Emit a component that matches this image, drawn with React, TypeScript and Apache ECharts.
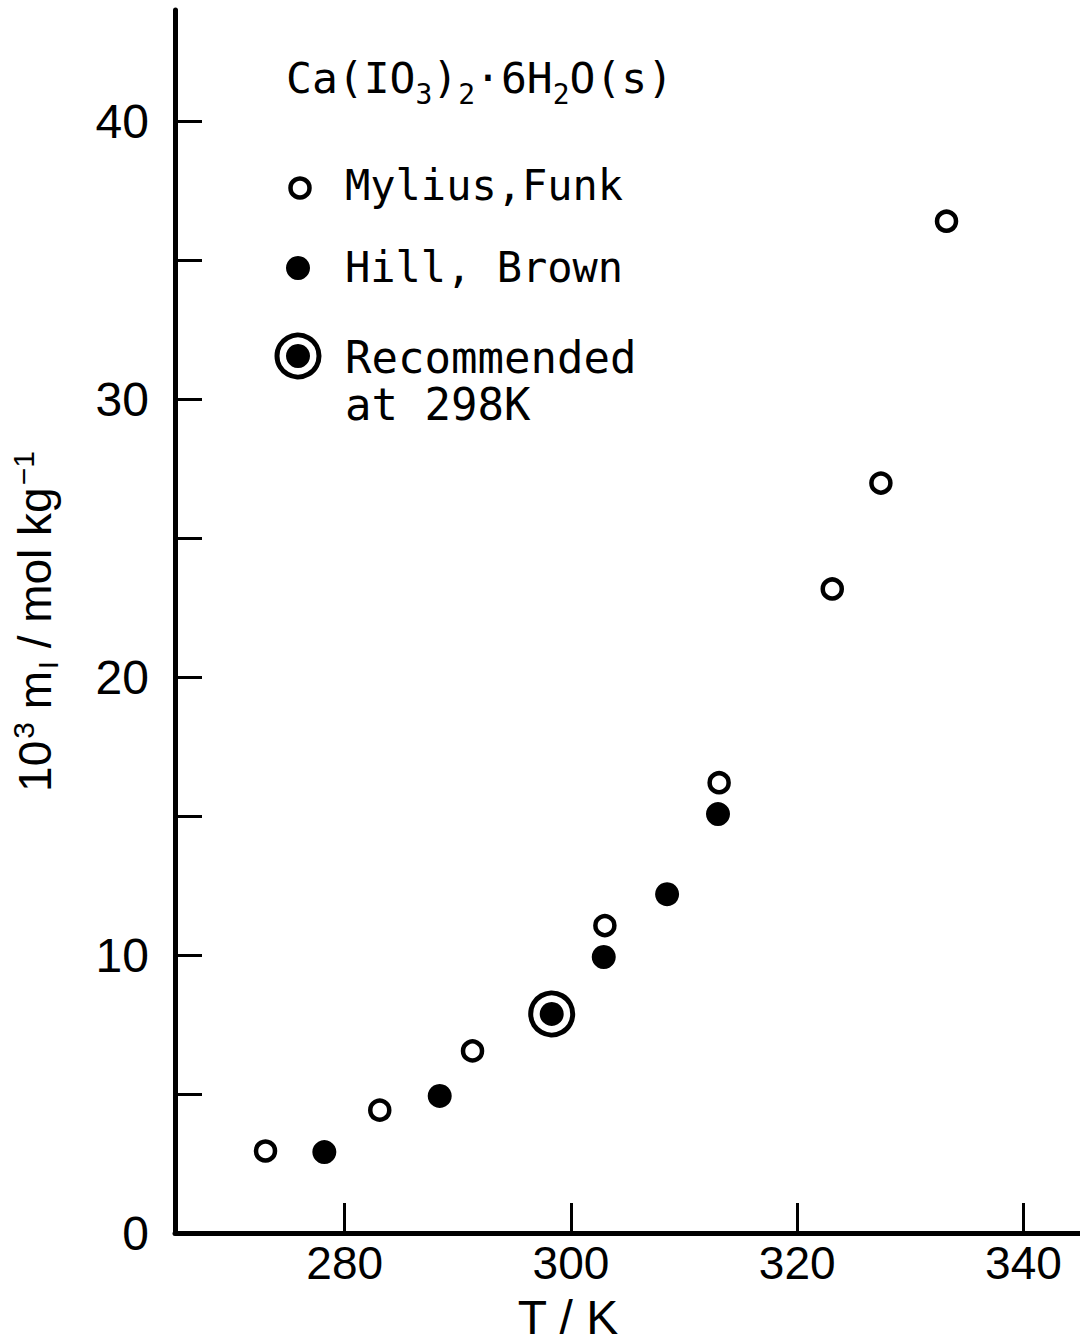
import React, { useEffect, useRef } from 'react';
import * as echarts from 'echarts';

// Mylius, Funk (open circles)
const myliusT = [273.0, 283.1, 291.3, 303.0, 313.1, 323.1, 327.4, 333.2];
const myliusM = [2.95, 4.42, 6.55, 11.06, 16.2, 23.17, 26.98, 36.4];
// Hill, Brown (filled circles)
const hillT = [278.2, 288.4, 302.9, 308.5, 313.0];
const hillM = [2.91, 4.93, 9.93, 12.19, 15.07];
// Recommended at 298 K
const recT = [298.3];
const recM = [7.88];

const xTicks = [280, 300, 320, 340];
const yTicks = [0, 5, 10, 15, 20, 25, 30, 35, 40];
const yLabels = [0, 10, 20, 30, 40];

const MONO = '"DejaVu Sans Mono", monospace';
const SANS = '"Liberation Sans", Arial, sans-serif';

export default function App() {
  const ref = useRef<HTMLDivElement>(null);
  useEffect(() => {
    if (!ref.current) return;
    const chart = echarts.init(ref.current, null, { renderer: 'svg' });
    const pair = (a: number[], b: number[]) => a.map((v, i) => [v, b[i]]);
    chart.setOption({
      animation: false,
      backgroundColor: '#fff',
      grid: { left: 173, right: 0, top: 10, bottom: 109, containLabel: false },
      xAxis: {
        type: 'value',
        min: 265,
        max: 345,
        splitLine: { show: false },
        axisLine: { show: true, onZero: false, lineStyle: { color: '#000', width: 5 } },
        axisTick: { show: true, inside: true, length: 30, customValues: xTicks, lineStyle: { color: '#000', width: 3 } },
        axisLabel: { customValues: xTicks, margin: 7, color: '#000', fontSize: 46, fontFamily: SANS, lineHeight: 46 },
      },
      yAxis: {
        type: 'value',
        min: 0,
        max: 44,
        splitLine: { show: false },
        axisLine: { show: true, onZero: false, lineStyle: { color: '#000', width: 5 } },
        axisTick: { show: true, inside: true, length: 27, customValues: yTicks, lineStyle: { color: '#000', width: 3 } },
        axisLabel: { customValues: yLabels, margin: 26, color: '#000', fontSize: 48, fontFamily: SANS, padding: [12, 0, 0, 0] },
        name: '{n|10}{sup|3}{n| m}{sub|I}{n| / mol kg}{sup|−1}',
        nameLocation: 'middle',
        nameRotate: 90,
        nameGap: 113,
        nameTextStyle: {
          color: '#000',
          fontFamily: SANS,
          rich: {
            n: { fontSize: 46, fontFamily: SANS, color: '#000' },
            sup: { fontSize: 30, fontFamily: SANS, color: '#000', padding: [0, 0, 24, 2] },
            sub: { fontSize: 28, fontFamily: SANS, color: '#000', padding: [26, 0, 0, 2] },
          },
        },
      },
      series: [
        {
          name: 'Mylius,Funk',
          type: 'scatter',
          data: pair(myliusT, myliusM),
          symbol: 'circle',
          symbolSize: 19,
          itemStyle: { color: '#fff', borderColor: '#000', borderWidth: 4.5, opacity: 1 },
          z: 3,
        },
        {
          name: 'Hill, Brown',
          type: 'scatter',
          data: pair(hillT, hillM),
          symbol: 'circle',
          symbolSize: 24,
          itemStyle: { color: '#000', opacity: 1 },
          z: 3,
        },
        {
          name: 'Recommended ring',
          type: 'scatter',
          data: pair(recT, recM),
          symbol: 'circle',
          symbolSize: 42,
          itemStyle: { color: '#fff', borderColor: '#000', borderWidth: 5, opacity: 1 },
          z: 3,
        },
        {
          name: 'Recommended at 298K',
          type: 'scatter',
          data: pair(recT, recM),
          symbol: 'circle',
          symbolSize: 24,
          itemStyle: { color: '#000', opacity: 1 },
          z: 4,
        },
      ],
      graphic: {
        elements: [
          {
            type: 'text',
            left: 286,
            top: 56,
            style: {
              text: '{n|Ca(IO}{s|3}{n|)}{s|2}{n|·6H}{s|2}{n|O(s)}',
              fill: '#000',
              rich: {
                n: { fontSize: 43, fontFamily: MONO, fill: '#000' },
                s: { fontSize: 28, fontFamily: MONO, fill: '#000', padding: [34, 0, 0, 0] },
              },
            },
          },
          { type: 'circle', shape: { cx: 300, cy: 188, r: 9.5 }, style: { fill: '#fff', stroke: '#000', lineWidth: 4.5 } },
          { type: 'text', x: 345, y: 185, style: { text: 'Mylius,Funk', fontSize: 42, fontFamily: MONO, fill: '#000', verticalAlign: 'middle', align: 'left' } },
          { type: 'circle', shape: { cx: 298, cy: 268, r: 12 }, style: { fill: '#000' } },
          { type: 'text', x: 345, y: 267, style: { text: 'Hill, Brown', fontSize: 42, fontFamily: MONO, fill: '#000', verticalAlign: 'middle', align: 'left' } },
          { type: 'circle', shape: { cx: 298, cy: 356, r: 21 }, style: { fill: '#fff', stroke: '#000', lineWidth: 5 } },
          { type: 'circle', shape: { cx: 298, cy: 356, r: 12 }, style: { fill: '#000' } },
          {
            type: 'text',
            x: 345,
            y: 334,
            style: { text: 'Recommended\nat 298K', fontSize: 44, lineHeight: 47, fontFamily: MONO, fill: '#000', verticalAlign: 'top', align: 'left' },
          },
          { type: 'text', x: 568, y: 1317, style: { text: 'T / K', fontSize: 48, fontFamily: SANS, fill: '#000', verticalAlign: 'middle', align: 'center' } },
        ],
      },
    });
    return () => chart.dispose();
  }, []);
  return (
    <div
      ref={ref}
      style={{ position: 'absolute', left: 0, top: 0, width: 1080, height: 1342, background: '#fff' }}
    />
  );
}
